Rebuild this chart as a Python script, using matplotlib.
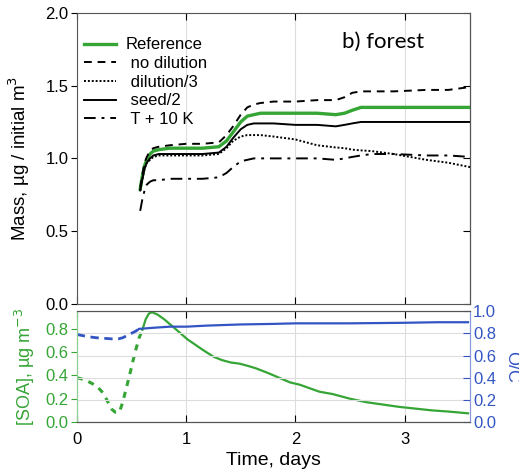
import matplotlib
matplotlib.use("Agg")
import matplotlib.pyplot as plt

plt.rcParams['font.family'] = ['Liberation Sans', 'DejaVu Sans']

# top panel: mass vs time (days)
t_mass = [0.58, 0.60, 0.62, 0.64, 0.67, 0.70, 0.75, 0.85, 1.0, 1.15, 1.30, 1.37,
          1.43, 1.50, 1.56, 1.62, 1.68, 1.8, 2.0, 2.2, 2.37, 2.45, 2.52, 2.60,
          2.7, 2.9, 3.2, 3.4, 3.6]
mass_ref = [0.79, 0.88, 0.95, 0.99, 1.03, 1.05, 1.06, 1.07, 1.07, 1.07, 1.08, 1.12,
            1.18, 1.25, 1.29, 1.30, 1.31, 1.31, 1.31, 1.31, 1.30, 1.31, 1.33, 1.35,
            1.35, 1.35, 1.35, 1.35, 1.35]
mass_nodil = [0.80, 0.89, 0.97, 1.01, 1.05, 1.07, 1.08, 1.09, 1.10, 1.10, 1.11, 1.16,
              1.22, 1.30, 1.35, 1.37, 1.38, 1.39, 1.39, 1.40, 1.40, 1.42, 1.45, 1.46,
              1.46, 1.46, 1.47, 1.47, 1.49]
mass_dil3 = [0.78, 0.86, 0.93, 0.97, 0.99, 1.01, 1.02, 1.02, 1.02, 1.02, 1.03, 1.07,
             1.12, 1.15, 1.16, 1.16, 1.16, 1.15, 1.13, 1.09, 1.075, 1.07, 1.06, 1.055,
             1.05, 1.03, 0.99, 0.97, 0.94]
mass_seed2 = [0.78, 0.86, 0.93, 0.97, 1.00, 1.02, 1.03, 1.03, 1.03, 1.03, 1.04, 1.08,
              1.14, 1.20, 1.23, 1.24, 1.24, 1.24, 1.23, 1.23, 1.22, 1.23, 1.24, 1.25,
              1.25, 1.25, 1.25, 1.25, 1.25]
mass_t10 = [0.64, 0.72, 0.78, 0.82, 0.84, 0.85, 0.85, 0.86, 0.86, 0.86, 0.87, 0.90,
            0.94, 0.98, 0.99, 1.00, 1.00, 1.00, 1.00, 1.00, 0.99, 1.00, 1.01, 1.02,
            1.03, 1.03, 1.02, 1.02, 1.01]
labels = ["Reference", " no dilution", " dilution/3", " seed/2", " T + 10 K"]

# bottom panel: SOA concentration and O/C
t_soa_dash = [0.0, 0.08, 0.18, 0.24, 0.28, 0.32, 0.35, 0.39, 0.42, 0.45, 0.48, 0.51, 0.54, 0.57, 0.60]
soa_dash = [0.38, 0.36, 0.31, 0.25, 0.18, 0.11, 0.085, 0.085, 0.17, 0.28, 0.39, 0.51, 0.62, 0.72, 0.79]
t_soa = [0.60, 0.63, 0.66, 0.69, 0.74, 0.80, 0.90, 1.01, 1.15, 1.25, 1.33, 1.41, 1.49, 1.57,
         1.64, 1.75, 1.85, 1.95, 2.04, 2.22, 2.34, 2.5, 2.65, 2.8, 2.95, 3.1, 3.25, 3.4, 3.58]
soa = [0.79, 0.88, 0.93, 0.94, 0.92, 0.88, 0.80, 0.71, 0.62, 0.56, 0.53, 0.51, 0.50, 0.48,
       0.46, 0.42, 0.38, 0.34, 0.32, 0.26, 0.24, 0.20, 0.17, 0.15, 0.13, 0.115, 0.10, 0.09, 0.075]
t_oc_dash = [0.0, 0.05, 0.1, 0.18, 0.25, 0.32, 0.38, 0.42, 0.46, 0.50, 0.54, 0.57]
oc_dash = [0.79, 0.78, 0.77, 0.76, 0.755, 0.75, 0.75, 0.76, 0.78, 0.80, 0.82, 0.84]
t_oc = [0.57, 0.7, 0.85, 1.0, 1.2, 1.5, 1.8, 2.0, 2.5, 3.0, 3.3, 3.58]
oc = [0.84, 0.85, 0.86, 0.86, 0.87, 0.88, 0.885, 0.89, 0.89, 0.895, 0.90, 0.90]

green = '#35a535'
blue = '#3355c4'
grid_c = '#dddddd'
fs = 12

fig = plt.figure(figsize=(5.19, 4.70), dpi=100)
ax = fig.add_axes([0.148, 0.353, 0.758, 0.620])
axb = fig.add_axes([0.148, 0.102, 0.758, 0.236])

# ---- top panel
ax.plot(t_mass, mass_ref, color=green, lw=2.4, label=labels[0])
ax.plot(t_mass, mass_nodil, color='k', lw=1.4, ls=(0, (4, 3)), label=labels[1])
ax.plot(t_mass, mass_dil3, color='k', lw=1.4, ls=(0, (1, 1)), label=labels[2])
ax.plot(t_mass, mass_seed2, color='k', lw=1.4, label=labels[3])
ax.plot(t_mass, mass_t10, color='k', lw=1.4, ls=(0, (6, 3, 1.5, 3)), label=labels[4])
ax.set_xlim(0, 3.6)
ax.set_ylim(0, 2.0)
ax.set_xticks([0, 1, 2, 3])
ax.set_yticks([0.0, 0.5, 1.0, 1.5, 2.0])
ax.set_yticklabels(['0.0', '0.5', '1.0', '1.5', '2.0'], fontsize=fs)
ax.tick_params(axis='x', direction='in', top=True, labelbottom=False, length=5)
ax.tick_params(axis='y', direction='out', length=4, pad=2)
sec = ax.secondary_yaxis('right')
sec.set_yticks([0.0, 0.5, 1.0, 1.5, 2.0])
sec.tick_params(direction='in', labelright=False, length=5)
ax.grid(axis='x', color=grid_c, lw=0.8)
for s in ax.spines.values():
    s.set_color('#555555')
ax.set_ylabel('Mass, µg / initial m$^3$', fontsize=13.5)
ax.yaxis.set_label_coords(-0.113, 0.5)
ax.text(0.779, 0.90, 'b) forest', transform=ax.transAxes, fontsize=16,
        family='Lato', ha='center', va='center')
ax.legend(loc='upper left', frameon=False, fontsize=fs, handlelength=1.9,
          handletextpad=0.6, labelspacing=0.22, borderpad=0, borderaxespad=0,
          bbox_to_anchor=(0.018, 0.915))

# ---- bottom panel
axb.plot(t_soa_dash, soa_dash, color=green, lw=2.2, ls=(0, (2, 2)))
axb.plot(t_soa, soa, color=green, lw=1.6)
axb.set_xlim(0, 3.6)
axb.set_ylim(0, 0.95)
axb.set_xticks([0, 1, 2, 3])
axb.set_xticklabels(['0', '1', '2', '3'], fontsize=fs)
axb.set_yticks([0.0, 0.2, 0.4, 0.6, 0.8])
axb.set_yticklabels(['0.0', '0.2', '0.4', '0.6', '0.8'], fontsize=fs, color=green)
axb.tick_params(axis='x', direction='in', top=True, length=5, pad=7)
axb.tick_params(axis='y', direction='out', colors=green, length=4, pad=2)
axb.grid(axis='x', color=grid_c, lw=0.8)
axb.set_xlabel('Time, days', fontsize=14, labelpad=4)
axb.set_ylabel('[SOA], µg m$^{-3}$', color=green, fontsize=13)
axb.yaxis.set_label_coords(-0.10, 0.5)

axo = axb.twinx()
axo.plot(t_oc_dash, oc_dash, color=blue, lw=2.0, ls=(0, (3, 2)))
axo.plot(t_oc, oc, color=blue, lw=1.6)
axo.set_ylim(0, 1.0)
axo.set_yticks([0.0, 0.2, 0.4, 0.6, 0.8, 1.0])
axo.set_yticklabels(['0.0', '0.2', '0.4', '0.6', '0.8', '1.0'], fontsize=fs, color=blue)
axo.tick_params(axis='y', direction='in', colors=blue, length=5, pad=2)
axo.grid(axis='y', color=grid_c, lw=0.8)
axo.set_ylabel('O/C', color=blue, fontsize=13, rotation=-90, va='bottom', labelpad=5)
for a in (axb, axo):
    a.spines['top'].set_color('#555555')
    a.spines['bottom'].set_color('#555555')
    a.spines['left'].set_color('#8fcf8f')
    a.spines['right'].set_color('#8899dd')

fig.savefig('out.png', dpi=100)
